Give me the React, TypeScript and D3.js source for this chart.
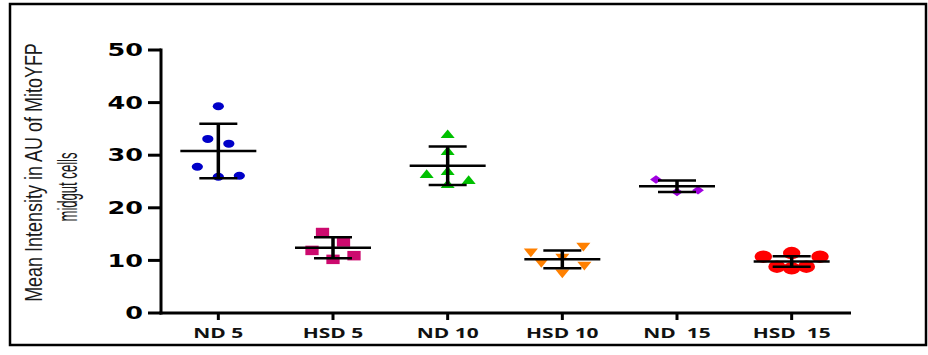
import React, { useLayoutEffect, useRef, useState } from 'react';
import * as d3 from 'd3';

// groups along the x axis (double spaces are in the original labels)
const groups = ['ND 5', 'HSD 5', 'ND 10', 'HSD 10', 'ND  15', 'HSD  15'];

// individual measurements per group
const nd5 = [39.3, 33.1, 32.2, 27.8, 25.9, 26.1];
const hsd5 = [15.3, 13.5, 11.9, 10.9, 10.2];
const nd10 = [33.8, 30.6, 26.2, 26.8, 25.1, 24.3];
const hsd10 = [11.7, 9.7, 10.7, 7.7, 12.8, 9.2];
const nd15 = [25.4, 23.0, 23.35];
const hsd15 = [10.7, 11.4, 10.7, 8.8, 8.5, 8.8];

// scatter lane of each point (column-scatter jitter, in marker widths)
const nd5Lanes = [0, -1, 1, -2, 0, 2];
const hsd5Lanes = [-1, 1, -2, 2, 0];
const nd10Lanes = [0, 0, -2, 0, 2, 0];
const hsd10Lanes = [-3, -2, 0, 0, 2, 2.1];
const nd15Lanes = [-2, 0, 2];
const hsd15Lanes = [-2.7, 0, 2.7, -1.4, 0, 1.4];

// mean and SD per group
const means = [30.8, 12.4, 28.0, 10.2, 24.1, 9.8];
const sds = [5.2, 2.0, 3.65, 1.7, 1.1, 1.0];

const yTicks = [0, 10, 20, 30, 40, 50];
const colors = ['#0000c8', '#cc0a6e', '#00c000', '#ff8000', '#a000e0', '#ff0000'];
const titleLines = ['Mean Intensity in AU of MitoYFP', 'midgut cells'];

const values = [nd5, hsd5, nd10, hsd10, nd15, hsd15];
const lanes = [nd5Lanes, hsd5Lanes, nd10Lanes, hsd10Lanes, nd15Lanes, hsd15Lanes];

const W = 928;
const H = 355;
const STRETCH = 1.4; // the figure is drawn a bit wide
const LANE = 10.5;

const diamond = {
  draw(ctx: any, size: number) {
    const r = Math.sqrt(size) / 2;
    ctx.moveTo(0, -r);
    ctx.lineTo(r, 0);
    ctx.lineTo(0, r);
    ctx.lineTo(-r, 0);
    ctx.closePath();
  },
};

const markers = [
  { path: d3.symbol(d3.symbolCircle, Math.PI * 4 * 4)(), rot: 0 },
  { path: d3.symbol(d3.symbolSquare, 90)(), rot: 0 },
  { path: d3.symbol(d3.symbolTriangle, 44)(), rot: 0 },
  { path: d3.symbol(d3.symbolTriangle, 44)(), rot: 180 },
  { path: d3.symbol(diamond as any, 72)(), rot: 0 },
  { path: d3.symbol(d3.symbolCircle, Math.PI * 6.2 * 6.2)(), rot: 0 },
];

// where the two title lines sit, how long they run and how tall the glyphs are
const titlePos = [
  { x: 42, y: 172.5, len: 259, size: 24 },
  { x: 77, y: 187, len: 69, size: 27 },
];

export default function App() {
  const x = d3.scaleBand().domain(groups).range([161, 849]);
  const y = d3.scaleLinear().domain([0, 50]).range([313, 50]);
  const cx = (g: string) => (x(g) as number) + x.bandwidth() / 2;

  const titleRefs = useRef<(SVGTextElement | null)[]>([]);
  const [fit, setFit] = useState([1, 1]);

  useLayoutEffect(() => {
    const f = titleRefs.current.map((el, i) => {
      if (!el) return 1;
      const w = el.getComputedTextLength();
      return w > 0 ? titlePos[i].len / w : 1;
    });
    setFit(f);
  }, []);

  return (
    <svg width={W} height={H} style={{ position: 'absolute', left: 0, top: 0, background: '#fff' }}>
      <rect x={10} y={4} width={916} height={341} fill="#fff" stroke="#000" strokeWidth={2.5} />

      {/* y title */}
      <g fontFamily="'Liberation Sans Narrow', 'Arial Narrow', sans-serif" fill="#1a1a1a">
        {titleLines.map((t, i) => (
          <text
            key={t}
            ref={el => { titleRefs.current[i] = el; }}
            fontSize={titlePos[i].size}
            transform={`translate(${titlePos[i].x},${titlePos[i].y}) rotate(-90) scale(${fit[i]},1)`}
            textAnchor="middle"
          >
            {t}
          </text>
        ))}
      </g>

      {/* y axis */}
      <g stroke="#000" strokeWidth={3}>
        <line x1={161} x2={161} y1={y(50) - 1.5} y2={y(0) + 1.5} />
        {yTicks.map(t => (
          <line key={t} x1={148} x2={161} y1={y(t)} y2={y(t)} />
        ))}
      </g>
      <g fontFamily="'DejaVu Sans', sans-serif" fontWeight="bold" fontSize={17} fill="#000">
        {yTicks.map(t => (
          <text key={t} transform={`translate(143,${y(t)}) scale(1.5,1)`} textAnchor="end" dy="0.36em">
            {t}
          </text>
        ))}
      </g>

      {/* x axis */}
      <g stroke="#000" strokeWidth={3}>
        <line x1={159.5} x2={851} y1={y(0)} y2={y(0)} />
        {groups.map(g => (
          <line key={g} x1={cx(g)} x2={cx(g)} y1={y(0)} y2={y(0) + 7} />
        ))}
      </g>
      <g fontFamily="'Open Sans', sans-serif" fontWeight="bold" fontSize={15} fill="#111">
        {groups.map(g => (
          <text key={g} transform={`translate(${cx(g)},338) scale(${STRETCH},1)`} textAnchor="middle" style={{ whiteSpace: 'pre' }}>
            {g}
          </text>
        ))}
      </g>

      {/* points */}
      {groups.map((g, gi) => (
        <g key={g} fill={colors[gi]}>
          {values[gi].map((v, i) => (
            <path
              key={i}
              d={markers[gi].path as string}
              transform={`translate(${cx(g) + lanes[gi][i] * LANE},${y(v)}) scale(${STRETCH},1) rotate(${markers[gi].rot})`}
            />
          ))}
        </g>
      ))}

      {/* mean +/- SD */}
      {groups.map((g, gi) => {
        const c = cx(g);
        const top = y(means[gi] + sds[gi]);
        const bot = y(means[gi] - sds[gi]);
        const m = y(means[gi]);
        return (
          <g key={g} stroke="#000">
            <line x1={c} x2={c} y1={top} y2={bot} strokeWidth={3.5} />
            <line x1={c - 19} x2={c + 19} y1={top} y2={top} strokeWidth={2.5} />
            <line x1={c - 19} x2={c + 19} y1={bot} y2={bot} strokeWidth={2.5} />
            <line x1={c - 38} x2={c + 38} y1={m} y2={m} strokeWidth={2.5} />
          </g>
        );
      })}
    </svg>
  );
}
